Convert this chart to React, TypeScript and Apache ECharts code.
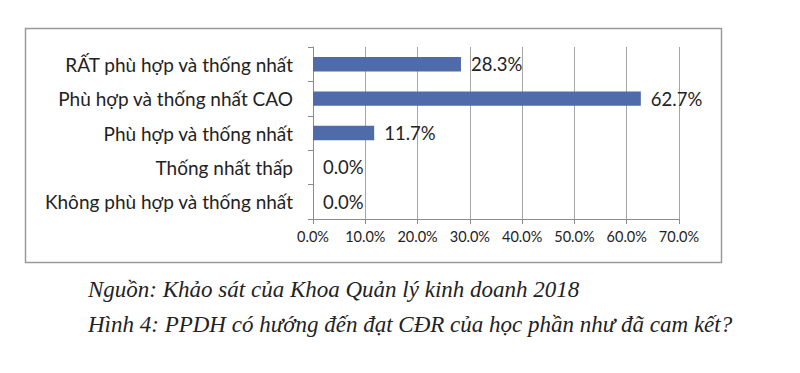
import React, { useEffect, useRef } from "react";
import * as echarts from "echarts";

const categories = [
  "RẤT phù hợp và thống nhất",
  "Phù hợp và thống nhất CAO",
  "Phù hợp và thống nhất",
  "Thống nhất thấp",
  "Không phù hợp và thống nhất",
];
const values = [28.3, 62.7, 11.7, 0.0, 0.0];
const sourceText = "Nguồn: Khảo sát của Khoa Quản lý kinh doanh 2018";
const captionText = "Hình 4: PPDH có hướng đến đạt CĐR của học phần như đã cam kết?";

export default function App() {
  const ref = useRef<HTMLDivElement>(null);
  useEffect(() => {
    if (!ref.current) return;
    const chart = echarts.init(ref.current, null, { renderer: "svg" });
    chart.setOption({
      animation: false,
      backgroundColor: "#ffffff",
      grid: { left: 313, right: 121, top: 47, bottom: 154, containLabel: false },
      xAxis: {
        type: "value",
        min: 0,
        max: 70,
        interval: 10,
        axisLine: { show: true, lineStyle: { color: "#8c8c8c", width: 1 } },
        axisTick: { show: true, length: 5, lineStyle: { color: "#8c8c8c" } },
        splitLine: { show: true, lineStyle: { color: "#a6a6a6", width: 1 } },
        axisLabel: {
          formatter: (v: number) => v.toFixed(1) + "%",
          fontFamily: "Lato",
          fontSize: 14.5,
          color: "#222",
          margin: 10,
        },
      },
      yAxis: {
        type: "category",
        data: categories,
        inverse: true,
        axisLine: { show: true, lineStyle: { color: "#8c8c8c", width: 1 } },
        axisTick: { show: true, length: 5, alignWithLabel: false, lineStyle: { color: "#8c8c8c" } },
        splitLine: { show: false },
        axisLabel: {
          fontFamily: "Lato",
          fontSize: 19,
          color: "#222",
          margin: 20,
        },
      },
      series: [
        {
          type: "bar",
          data: values,
          barCategoryGap: "58%",
          itemStyle: { color: "#4F6BAA" },
          label: {
            show: true,
            position: "right",
            distance: 10,
            formatter: (p: any) => Number(p.value).toFixed(1) + "%",
            fontFamily: "Lato",
            fontSize: 18.5,
            color: "#222",
          },
        },
      ],
      graphic: [
        {
          type: "rect",
          shape: { x: 25.5, y: 28.5, width: 696, height: 234 },
          style: { fill: "none", stroke: "#9a9a9a", lineWidth: 1.5 },
          silent: true,
          z: -1,
        },
        {
          type: "text",
          x: 88,
          y: 289,
          style: {
            text: sourceText,
            fontFamily: "Liberation Serif",
            fontStyle: "italic",
            fontSize: 23,
            fill: "#222",
            textVerticalAlign: "middle",
          },
        },
        {
          type: "text",
          x: 88,
          y: 324,
          style: {
            text: captionText,
            fontFamily: "Liberation Serif",
            fontStyle: "italic",
            fontSize: 23,
            fill: "#222",
            textVerticalAlign: "middle",
          },
        },
      ],
    });
    return () => chart.dispose();
  }, []);
  return (
    <div
      ref={ref}
      style={{ position: "absolute", left: 0, top: 0, width: 800, height: 373 }}
    />
  );
}
